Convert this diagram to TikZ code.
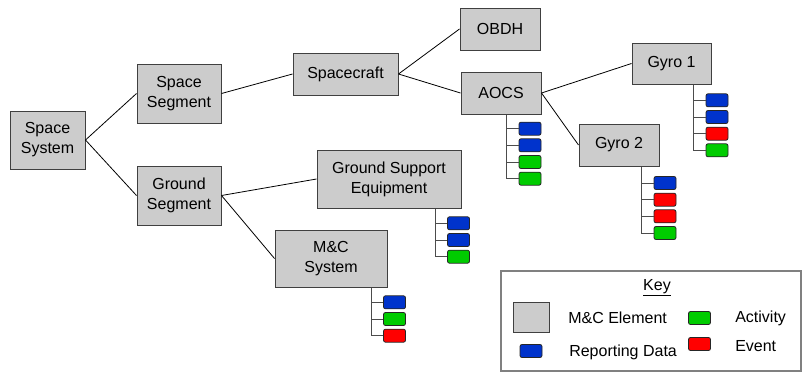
\documentclass[tikz,border=0pt]{standalone}
\usepackage{fontspec}
\setmainfont{Liberation Sans}
\definecolor{repblue}{RGB}{0,51,204}
\definecolor{actgreen}{RGB}{0,204,0}
\definecolor{evtred}{RGB}{255,0,0}
\definecolor{elemgray}{RGB}{204,204,204}
\begin{document}
\begin{tikzpicture}[x=0.75pt,y=-0.75pt,
  txt/.style={font=\fontsize{12}{15}\selectfont, inner sep=0pt},
  elem/.style 2 args={draw=black!75, line width=0.75pt, fill=elemgray,
    minimum width=#1*0.75pt, minimum height=#2*0.75pt, inner sep=0pt,
    align=center, txt},
  param/.style={draw=black!85, line width=0.6pt, rounded corners=1.5pt,
    minimum width=16.5pt, minimum height=9.75pt, inner sep=0pt},
  rep/.style={param, fill=repblue},
  act/.style={param, fill=actgreen},
  evt/.style={param, fill=evtred},
  link/.style={line width=0.6pt},
  tree/.style={draw=black!70, line width=0.75pt}]
\useasboundingbox (0,0) rectangle (803,372);

% M&C elements
\node[elem={75}{58}]  (sys)   at (47.5,140)  {Space\\System};
\node[elem={84}{59}]  (spseg) at (179,93.5)  {Space\\Segment};
\node[elem={84}{59}]  (gseg)  at (179,195.5) {Ground\\Segment};
\node[elem={105}{42}] (craft) at (345.5,74)  {Spacecraft};
\node[elem={144}{58}] (gse)   at (389,179)   {Ground Support\\Equipment};
\node[elem={112}{57}] (mc)    at (331,258.5) {M\&C\\System};
\node[elem={80}{42}]  (obdh)  at (500,29)    {OBDH};
\node[elem={80}{42}]  (aocs)  at (501,93)    {AOCS};
\node[elem={79}{41}]  (gyroA) at (671.5,63.5) {Gyro 1};
\node[elem={80}{42}]  (gyroB) at (619,145)   {Gyro 2};

% hierarchy links
\draw[link] (sys.east) -- (spseg.west);
\draw[link] (sys.east) -- (gseg.west);
\draw[link] (spseg.east) -- (craft.west);
\draw[link] (craft.east) -- (obdh.west);
\draw[link] (craft.east) -- (aocs.west);
\draw[link] (aocs.east) -- (gyroA.west);
\draw[link] (aocs.east) -- (gyroB.west);
\draw[link] (gseg.east) -- (gse.west);
\draw[link] (gseg.east) -- (mc.west);

% parameter lists: AOCS
\node[rep] (a1) at (530,128.7) {};
\node[rep] (a2) at (530,145.3) {};
\node[act] (a3) at (530,162) {};
\node[act] (a4) at (530,178.7) {};
% Gyro 1
\node[rep] (g1) at (717,100.3) {};
\node[rep] (g2) at (717,117) {};
\node[evt] (g3) at (717,133.7) {};
\node[act] (g4) at (717,150.3) {};
% Gyro 2
\node[rep] (h1) at (665,183) {};
\node[evt] (h2) at (665,199.7) {};
\node[evt] (h3) at (665,216.3) {};
\node[act] (h4) at (665,233) {};
% Ground Support Equipment
\node[rep] (e1) at (458.5,223.3) {};
\node[rep] (e2) at (458.5,240) {};
\node[act] (e3) at (458.5,256.7) {};
% M&C System
\node[rep] (m1) at (394.5,302.3) {};
\node[act] (m2) at (394.5,319) {};
\node[evt] (m3) at (394.5,335.7) {};

% tree lines from each element to its parameters
\foreach \owner/\first/\last/\rest in {aocs/a1/a4/{a1,a2,a3}, gyroA/g1/g4/{g1,g2,g3},
    gyroB/h1/h4/{h1,h2,h3}, gse/e1/e3/{e1,e2}, mc/m1/m3/{m1,m2}}{
  \draw[tree] ([xshift=-9pt]\first.west |- \owner.south) |- (\last.west);
  \foreach \c in \rest { \draw[tree] ([xshift=-9pt]\c.west) -- (\c.west); }
}

% key
\node[draw=black!50, line width=1pt, minimum width=225pt, minimum height=75pt,
  inner sep=0pt] (key) at (651,321) {};
\node[txt] (keytitle) at (657,288) {\underline{Key}};
\node[elem={36}{30}] (kelem) at (531,317) {};
\node[txt, anchor=west] (kelemtxt) at (568,318) {M\&C Element};
\node[rep] (krep) at (531,351) {};
\node[txt, anchor=west] (kreptxt) at (569,352) {Reporting Data};
\node[act] (kact) at (699.5,318) {};
\node[txt, anchor=west] (kacttxt) at (735,318) {Activity};
\node[evt] (kevt) at (699.5,344) {};
\node[txt, anchor=west] (kevttxt) at (735,346) {Event};
\end{tikzpicture}
\end{document}
